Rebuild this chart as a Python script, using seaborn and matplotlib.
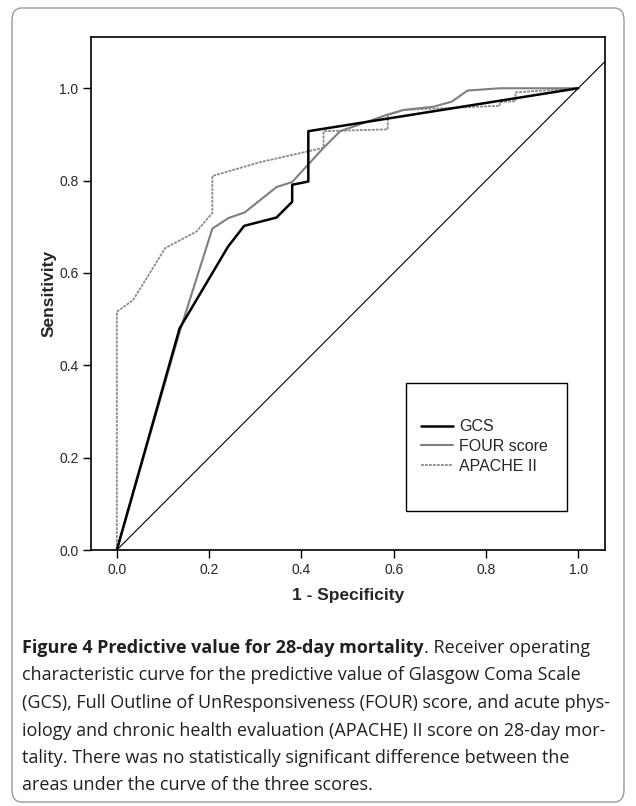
import matplotlib
matplotlib.use('Agg')
import matplotlib.pyplot as plt
from matplotlib.patches import FancyBboxPatch, Rectangle
from matplotlib.lines import Line2D
import pandas as pd
import seaborn as sns

# ROC points
gcs_fpr = [0.0, 0.136, 0.241, 0.276, 0.346, 0.380, 0.380, 0.415, 0.415, 1.0]
gcs_tpr = [0.0, 0.480, 0.657, 0.702, 0.720, 0.754, 0.791, 0.798, 0.907, 1.0]

four_fpr = [0.0, 0.136, 0.207, 0.242, 0.277, 0.346, 0.380, 0.448, 0.484, 0.587,
            0.621, 0.686, 0.726, 0.760, 0.830, 1.0]
four_tpr = [0.0, 0.472, 0.696, 0.719, 0.731, 0.786, 0.797, 0.871, 0.907, 0.943,
            0.953, 0.960, 0.971, 0.995, 1.0, 1.0]

apache_fpr = [0.0, 0.0, 0.035, 0.105, 0.173, 0.207, 0.207, 0.311, 0.448, 0.448,
              0.587, 0.587, 0.621, 0.830, 0.830, 0.864, 0.864, 1.0]
apache_tpr = [0.0, 0.516, 0.541, 0.654, 0.690, 0.730, 0.810, 0.840, 0.871, 0.907,
              0.911, 0.941, 0.953, 0.962, 0.970, 0.972, 0.991, 1.0]

series_names = ["GCS", "FOUR score", "APACHE II"]
tick_values = [0.0, 0.2, 0.4, 0.6, 0.8, 1.0]

caption_bold = "Figure 4 Predictive value for 28-day mortality"
caption_first = ". Receiver operating"
caption_lines = [
    "characteristic curve for the predictive value of Glasgow Coma Scale",
    "(GCS), Full Outline of UnResponsiveness (FOUR) score, and acute phys-",
    "iology and chronic health evaluation (APACHE) II score on 28-day mor-",
    "tality. There was no statistically significant difference between the",
    "areas under the curve of the three scores.",
]

sns.set_style("ticks")
plt.rcParams['font.family'] = ['Liberation Sans', 'DejaVu Sans']

W, H = 636, 806
fig = plt.figure(figsize=(W / 100, H / 100), dpi=100)
ax = fig.add_axes([91 / W, 1 - 550 / H, 514 / W, 513 / H])

frames = []
for name, fx, fy in [(series_names[0], gcs_fpr, gcs_tpr),
                     (series_names[1], four_fpr, four_tpr),
                     (series_names[2], apache_fpr, apache_tpr)]:
    frames.append(pd.DataFrame({"fpr": fx, "tpr": fy, "curve": name}))
df = pd.concat(frames, ignore_index=True)

styles = {
    "GCS": dict(color="black", lw=1.8, ls="-"),
    "FOUR score": dict(color="#7f7f7f", lw=1.5, ls="-"),
    "APACHE II": dict(color="#8c8c8c", lw=1.3, ls=(0, (1.6, 0.6))),
}

ax.axline((0, 0), (1, 1), color="black", lw=0.8, zorder=1)
for name in ["APACHE II", "FOUR score", "GCS"]:
    st = styles[name]
    sns.lineplot(data=df[df["curve"] == name], x="fpr", y="tpr", sort=False,
                 estimator=None, ax=ax, color=st["color"], linewidth=st["lw"],
                 linestyle=st["ls"], legend=False, zorder=3)

ax.set_xlim(-0.056, 1.058)
ax.set_ylim(0, 1.111)
ax.set_xticks(tick_values)
ax.set_yticks(tick_values)
ax.set_xticklabels([f"{v:.1f}" for v in tick_values])
ax.set_yticklabels([f"{v:.1f}" for v in tick_values])
ax.tick_params(axis="both", labelsize=10, length=6, width=1, color="black", pad=3)
for sp in ax.spines.values():
    sp.set_linewidth(1.2)
    sp.set_color("black")
ax.set_xlabel("1 - Specificity", fontsize=12.5, fontweight="bold", labelpad=8)
ax.set_ylabel("Sensitivity", fontsize=12.5, fontweight="bold", labelpad=2)

# legend box like the SPSS one
ax.add_patch(Rectangle((0.613, 0.076), 0.313, 0.25, transform=ax.transAxes,
                       fill=False, edgecolor="black", lw=1, zorder=5))
handles = [Line2D([], [], color=styles[n]["color"], lw=styles[n]["lw"], ls=styles[n]["ls"])
           for n in series_names]
ax.legend(handles, series_names, loc="upper left", bbox_to_anchor=(0.642, 0.255),
          frameon=False, borderpad=0, fontsize=11.5, handlelength=2.0,
          handletextpad=0.4, labelspacing=0.3, borderaxespad=0)

# outer rounded border
fig.patches.append(FancyBboxPatch((12 / W, 1 - 802 / H), 612 / W, 794 / H,
                                  boxstyle="round,pad=0,rounding_size=0.015",
                                  transform=fig.transFigure, fill=False,
                                  edgecolor="#9a9a9a", lw=1))

# caption
cap_font = ['Open Sans', 'DejaVu Sans']
cap_size = 13.0
x0 = 22 / W
line_y = [648, 675.5, 703, 730.5, 758, 785.5]
t = fig.text(x0, 1 - line_y[0] / H, caption_bold, fontsize=cap_size, fontweight="bold",
             family=cap_font, va="center", color="#231f20")
fig.canvas.draw()
bb = t.get_window_extent(renderer=fig.canvas.get_renderer())
fig.text(bb.x1 / W, 1 - line_y[0] / H, caption_first, fontsize=cap_size,
         family=cap_font, va="center", color="#231f20")
for y, line in zip(line_y[1:], caption_lines):
    fig.text(x0, 1 - y / H, line, fontsize=cap_size, family=cap_font, va="center",
             color="#231f20")

fig.savefig("out.png", dpi=100)
